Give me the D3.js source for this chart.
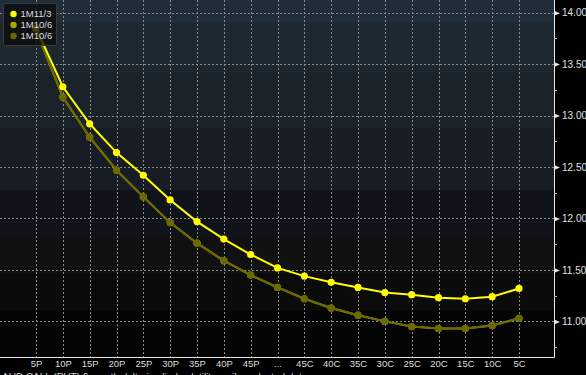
<!DOCTYPE html>
<html>
<head>
<meta charset="utf-8">
<script src="https://cdn.jsdelivr.net/npm/d3@7"></script>
<style>
  body { margin: 0; background: #000; }
  svg { display: block; }
  text { font-family: "Liberation Sans", Arial, sans-serif; }
</style>
</head>
<body>
<div class="chart"></div>
<script>
// delta buckets along the smile
const categories = ["5P", "10P", "15P", "20P", "25P", "30P", "35P", "40P", "45P", "...",
    "45C", "40C", "35C", "30C", "25C", "20C", "15C", "10C", "5C"]

const seriesNames = ["1M11/3", "1M10/6", "1M10/6"]
const seriesColors = ["#ffff00", "#a8a800", "#6a6a00"]

const vol1M11_3 = [13.85, 13.28, 12.92, 12.64, 12.42, 12.18, 11.97, 11.80, 11.65, 11.52,
    11.44, 11.38, 11.33, 11.28, 11.26, 11.23, 11.22, 11.24, 11.32]
const vol1M10_6a = [13.83, 13.18, 12.79, 12.47, 12.21, 11.96, 11.76, 11.59, 11.45, 11.33,
    11.22, 11.13, 11.06, 11.00, 10.95, 10.93, 10.93, 10.96, 11.03]
const vol1M10_6b = [13.83, 13.18, 12.79, 12.47, 12.21, 11.96, 11.76, 11.59, 11.45, 11.33,
    11.22, 11.13, 11.06, 11.00, 10.95, 10.93, 10.93, 10.96, 11.03]

const yTicks = [11.0, 11.5, 12.0, 12.5, 13.0, 13.5, 14.0]
const yMinorTicks = [10.75, 11.25, 11.75, 12.25, 12.75, 13.25, 13.75]

const width = 586
const height = 375
const plotRight = 554
const plotBottom = 357

const svg = d3.select(".chart").append("svg")
    .attr("width", width)
    .attr("height", height)

const xScale = d3.scalePoint()
    .domain(categories)
    .range([36, 519])

const yScale = d3.scaleLinear()
    .domain([10.654, 14.123])
    .range([plotBottom, 0])

// background bands, lighter slate at the top fading to black
const bands = [
    [0, 22, "#1f2e3a"], [22, 72, "#1d2830"], [72, 128, "#1a222a"], [128, 190, "#181c24"],
    [190, 237, "#11131a"], [237, 273, "#111111"], [273, 310, "#0b0b0b"], [310, plotBottom, "#040404"]
]
svg.append("g").selectAll("rect")
    .data(bands)
    .enter()
    .append("rect")
    .attr("x", 0)
    .attr("y", d => d[0])
    .attr("width", plotRight)
    .attr("height", d => d[1] - d[0])
    .attr("fill", d => d[2])

// grid
svg.append("g").selectAll("line")
    .data(yTicks)
    .enter()
    .append("line")
    .attr("x1", 0)
    .attr("x2", plotRight)
    .attr("y1", d => Math.round(yScale(d)) + 0.5)
    .attr("y2", d => Math.round(yScale(d)) + 0.5)
    .attr("stroke", "#8a8a8a")
    .attr("stroke-dasharray", "2,2")

svg.append("g").selectAll("line")
    .data(categories)
    .enter()
    .append("line")
    .attr("x1", d => Math.round(xScale(d)) + 0.5)
    .attr("x2", d => Math.round(xScale(d)) + 0.5)
    .attr("y1", 0)
    .attr("y2", plotBottom)
    .attr("stroke", "#8a8a8a")
    .attr("stroke-dasharray", "2,2")

// axes
const xAxis = svg.append("g")
    .attr("transform", "translate(0," + plotBottom + ")")
    .call(d3.axisBottom(xScale).tickSize(0).tickPadding(3))
xAxis.select(".domain").attr("d", "M0,0.5H" + (plotRight + 0.5)).attr("stroke", "#e6e6e6")
xAxis.selectAll("text").attr("fill", "#dcdcdc").attr("font-size", 9.5)
    .attr("font-family", "Liberation Sans, Arial, sans-serif")

const yAxis = svg.append("g")
    .attr("transform", "translate(" + plotRight + ",0)")
    .call(d3.axisRight(yScale).tickValues(yTicks).tickFormat(d3.format(".2f")).tickSize(0).tickPadding(8))
yAxis.select(".domain").attr("d", "M0.5,0V" + (plotBottom + 0.5)).attr("stroke", "#e6e6e6")
yAxis.selectAll("text").attr("fill", "#e0e0e0").attr("font-size", 10)
    .attr("font-family", "Liberation Sans, Arial, sans-serif")
yAxis.selectAll(".tick").append("path")
    .attr("d", "M0,-2.5L6,0L0,2.5Z")
    .attr("fill", "#e6e6e6")

svg.append("g").selectAll("line")
    .data(yMinorTicks)
    .enter()
    .append("line")
    .attr("x1", plotRight)
    .attr("x2", plotRight + 3)
    .attr("y1", d => Math.round(yScale(d)) + 0.5)
    .attr("y2", d => Math.round(yScale(d)) + 0.5)
    .attr("stroke", "#bbbbbb")

// series, darkest drawn last so it sits on top of its twin
const drawOrder = [1, 2, 0]
const seriesValues = [vol1M11_3, vol1M10_6a, vol1M10_6b]

const line = d3.line()
    .x((d, i) => xScale(categories[i]))
    .y(d => yScale(d))

drawOrder.forEach(k => {
    const values = seriesValues[k]
    const g = svg.append("g")
    g.append("path")
        .datum(values)
        .attr("fill", "none")
        .attr("stroke", seriesColors[k])
        .attr("stroke-width", 2)
        .attr("d", line)
    g.selectAll("circle")
        .data(values)
        .enter()
        .append("circle")
        .attr("cx", (d, i) => xScale(categories[i]))
        .attr("cy", d => yScale(d))
        .attr("r", 3.6)
        .attr("fill", seriesColors[k])
})

// legend
const legend = svg.append("g")
legend.append("rect")
    .attr("x", 3.5)
    .attr("y", 3.5)
    .attr("width", 53)
    .attr("height", 42)
    .attr("rx", 2)
    .attr("fill", "rgba(12,12,12,0.78)")
    .attr("stroke", "#3a3a3a")

seriesNames.forEach((name, i) => {
    legend.append("circle")
        .attr("cx", 13.5)
        .attr("cy", 14 + i * 11)
        .attr("r", 3.2)
        .attr("fill", seriesColors[i])
    legend.append("text")
        .attr("x", 20.5)
        .attr("y", 14 + i * 11)
        .attr("dy", "0.35em")
        .attr("fill", "#dcdcdc")
        .attr("font-size", 9.5)
        .attr("font-family", "DejaVu Sans Mono, monospace")
        .text(name)
})

// footnote, mostly cut off at the bottom edge as in the source
svg.append("text")
    .attr("x", 2)
    .attr("y", 381)
    .attr("fill", "#cfcfcf")
    .attr("font-size", 10)
    .text("AUD CALL (PUT) 6 month delta implied volatility smile, selected dates")
</script>
</body>
</html>
